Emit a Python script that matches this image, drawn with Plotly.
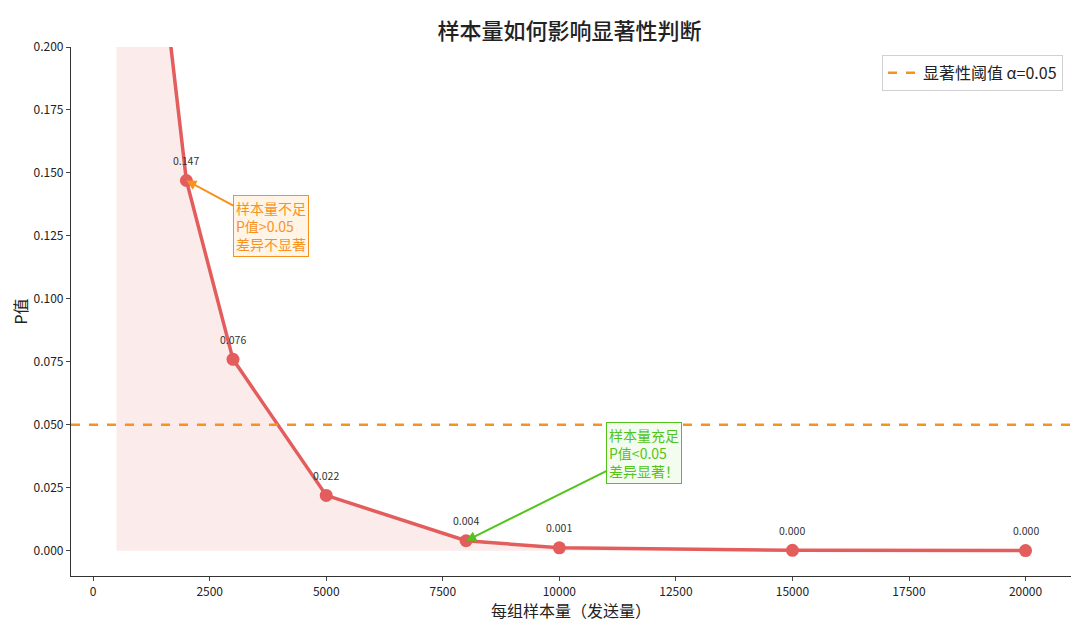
import plotly.graph_objects as go

# sample size per group vs p-value
sample_sizes = [500, 1000, 2000, 3000, 5000, 8000, 10000, 15000, 20000]
p_values = [0.55, 0.307, 0.147, 0.076, 0.022, 0.004, 0.0012, 0.0002, 0.0001]
alpha = 0.05

x_range = [-475, 20975]
y_range = [-0.01, 0.2]
x_ticks = [0, 2500, 5000, 7500, 10000, 12500, 15000, 17500, 20000]
y_ticks = [0.0, 0.025, 0.05, 0.075, 0.1, 0.125, 0.15, 0.175, 0.2]

RED = "#E35D5D"
ORANGE = "#F7921E"
GREEN = "#52C41A"
FONT = "Noto Sans CJK SC"

fig = go.Figure()

# shaded area under the curve
fig.add_trace(go.Scatter(x=sample_sizes, y=p_values, mode="lines", fill="tozeroy",
                         fillcolor="rgba(227,93,93,0.12)", line=dict(width=0),
                         showlegend=False, hoverinfo="skip"))

fig.add_trace(go.Scatter(x=sample_sizes, y=p_values, mode="lines+markers",
                         line=dict(color=RED, width=3.5), marker=dict(color=RED, size=13),
                         showlegend=False, cliponaxis=True))

# threshold line + legend entry
fig.add_hline(y=alpha, line=dict(color=ORANGE, width=2.5, dash="dash"))
fig.add_trace(go.Scatter(x=[None], y=[None], mode="lines", name="显著性阈值 α=0.05",
                         line=dict(color=ORANGE, width=2.5, dash="dash")))

# value labels above visible points
for xv, pv in zip(sample_sizes, p_values):
    if pv <= y_range[1]:
        fig.add_annotation(x=xv, y=pv, text=f"{pv:.3f}", showarrow=False, yshift=20,
                           font=dict(size=10.5, color="#333333", family=FONT))

fig.add_annotation(x=2000, y=0.147, ax=3811, ay=0.129, axref="x", ayref="y",
                   text="样本量不足<br>P值>0.05<br>差异不显著", showarrow=True,
                   arrowhead=2, arrowsize=1, arrowwidth=2, arrowcolor=ORANGE,
                   font=dict(size=14, color=ORANGE, family=FONT), align="left",
                   bgcolor="#FFF4E5", bordercolor=ORANGE, borderwidth=1, borderpad=2)

fig.add_annotation(x=8000, y=0.004, ax=11809, ay=0.039, axref="x", ayref="y",
                   text="样本量充足<br>P值<0.05<br>差异显著！", showarrow=True,
                   arrowhead=2, arrowsize=1, arrowwidth=2, arrowcolor=GREEN,
                   font=dict(size=14, color=GREEN, family=FONT), align="left",
                   bgcolor="#F3FCEE", bordercolor=GREEN, borderwidth=1, borderpad=2)

fig.update_layout(
    width=1080, height=625,
    paper_bgcolor="white", plot_bgcolor="white",
    margin=dict(l=63, r=17, t=39, b=57),
    font=dict(family=FONT, color="#222222"),
    title=dict(text="样本量如何影响显著性判断", x=0.52, xanchor="center", y=0.975, yanchor="top",
               font=dict(size=22, color="#222222", family=FONT, weight=500)),
    legend=dict(x=0.992, y=0.985, xanchor="right", yanchor="top", bgcolor="white",
                bordercolor="#D0D0D0", borderwidth=1, font=dict(size=16, family=FONT)),
)
fig.update_xaxes(range=x_range, tickvals=x_ticks, tickformat="d", showgrid=False, zeroline=False,
                 showline=True, linecolor="#333333", linewidth=1.2, ticks="outside", ticklen=4,
                 tickfont=dict(size=12, family=FONT), automargin=False,
                 title=dict(text="每组样本量（发送量）", font=dict(size=16, family=FONT), standoff=4))
fig.update_yaxes(range=y_range, tickvals=y_ticks, tickformat=".3f", showgrid=False, zeroline=False,
                 showline=True, linecolor="#333333", linewidth=1.2, ticks="outside", ticklen=4,
                 tickfont=dict(size=12, family=FONT), automargin=False,
                 title=dict(text="P值", font=dict(size=16, family=FONT), standoff=4))

fig.write_html("out.html")
